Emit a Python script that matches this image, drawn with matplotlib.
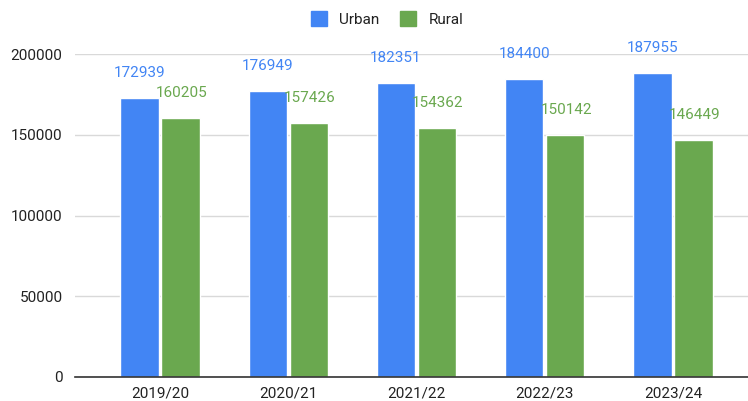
import matplotlib.pyplot as plt
from matplotlib.patches import Patch
import numpy as np

plt.rcParams['font.family'] = ['Roboto', 'DejaVu Sans']

years = ['2019/20', '2020/21', '2021/22', '2022/23', '2023/24']
urban = [172939, 176949, 182351, 184400, 187955]
rural = [160205, 157426, 154362, 150142, 146449]

blue = '#4285F4'
green = '#6AA84F'

fig = plt.figure(figsize=(7.48, 4.01), dpi=100)
ax = fig.add_axes([75 / 748, 1 - 377 / 401, 673 / 748, 323 / 401])

x = np.arange(len(years))
w = 0.3
off = 0.16
ax.bar(x - off, urban, w, color=blue, edgecolor='white', linewidth=1, zorder=3)
ax.bar(x + off, rural, w, color=green, edgecolor='white', linewidth=1, zorder=3)

for xi, v in zip(x, urban):
    ax.annotate(str(v), (xi - off, v), xytext=(0, 25), textcoords='offset pixels',
                ha='center', va='center', color=blue, fontsize=11, annotation_clip=False)
for xi, v in zip(x, rural):
    ax.annotate(str(v), (xi + off, v), xytext=(1, 25), textcoords='offset pixels',
                ha='center', va='center', color=green, fontsize=11, annotation_clip=False)

ax.set_xlim(-0.663, 4.585)
ax.set_ylim(0, 200000)
ax.set_yticks([0, 50000, 100000, 150000, 200000])
ax.set_yticklabels(['0', '50000', '100000', '150000', '200000'])
ax.set_xticks(x)
ax.set_xticklabels(years)
ax.tick_params(length=0, labelsize=11, labelcolor='#222222')
ax.tick_params(axis='y', pad=9)
ax.tick_params(axis='x', pad=7)
ax.grid(axis='y', color='#d9d9d9', linewidth=1, zorder=0)
for s in ['top', 'right', 'left']:
    ax.spines[s].set_visible(False)
ax.spines['bottom'].set_color('#333333')
ax.spines['bottom'].set_linewidth(1.2)
ax.spines['bottom'].set_zorder(4)

handles = [Patch(color=blue, label='Urban'), Patch(color=green, label='Rural')]
fig.legend(handles=handles, loc='center', bbox_to_anchor=(387 / 748, 1 - 19 / 401),
           ncol=2, frameon=False, fontsize=11, handlelength=1.05, handleheight=1.05,
           handletextpad=0.8, columnspacing=1.4, labelcolor='#222222')

plt.savefig('out.png')
plt.close()
